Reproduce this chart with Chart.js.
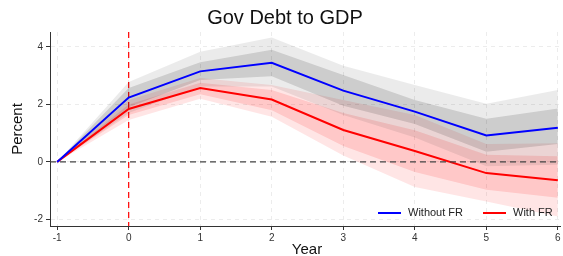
<!DOCTYPE html>
<html>
<head>
<meta charset="utf-8">
<script src="https://cdn.jsdelivr.net/npm/chart.js@4.4.1/dist/chart.umd.min.js"></script>
<style>
  body { margin: 0; background: #fff; }
  canvas { display: block; }
</style>
</head>
<body>
<canvas id="chart" width="563" height="256"></canvas>
<script>
// horizon (years) and tick labels
const years = [-1, 0, 1, 2, 3, 4, 5, 6];
const xTicks = [-1, 0, 1, 2, 3, 4, 5, 6];
const yTicks = [-2, 0, 2, 4];

// Without FR (blue) with bands
const withoutFR      = [0, 2.24, 3.15, 3.45, 2.48, 1.75, 0.92, 1.19];
const withoutOuterHi = [0, 2.78, 3.83, 4.33, 3.35, 2.68, 2.02, 2.50];
const withoutInnerHi = [0, 2.57, 3.47, 3.90, 3.02, 2.15, 1.50, 1.86];
const withoutInnerLo = [0, 1.90, 2.85, 2.98, 1.95, 1.32, 0.35, 0.62];
const withoutOuterLo = [0, 1.70, 2.62, 2.62, 1.63, 0.85, -0.15, -0.10];

// With FR (red) with bands
const withFR      = [0, 1.84, 2.57, 2.17, 1.11, 0.38, -0.39, -0.64];
const withOuterHi = [0, 2.15, 2.92, 2.68, 2.15, 1.63, 0.62, 0.65];
const withInnerHi = [0, 2.00, 2.75, 2.50, 1.70, 1.10, 0.25, 0.20];
const withInnerLo = [0, 1.63, 2.35, 1.80, 0.55, -0.35, -0.97, -1.25];
const withOuterLo = [0, 1.46, 2.20, 1.57, 0.22, -0.87, -1.38, -1.90];

function pts(arr) {
  return years.map((x, i) => ({ x: x, y: arr[i] }));
}

function band(lo, hi, color) {
  return [
    { data: pts(lo), borderWidth: 0, pointRadius: 0, fill: false, order: 5 },
    { data: pts(hi), borderWidth: 0, pointRadius: 0, fill: '-1', backgroundColor: color, order: 5 }
  ];
}

const datasets = [].concat(
  band(withoutOuterLo, withoutOuterHi, 'rgba(0,0,0,0.08)'),
  band(withoutInnerLo, withoutInnerHi, 'rgba(0,0,0,0.13)'),
  band(withOuterLo, withOuterHi, 'rgba(255,0,0,0.10)'),
  band(withInnerLo, withInnerHi, 'rgba(255,0,0,0.13)'),
  [
    { label: 'Without FR', data: pts(withoutFR), borderColor: '#0000ff', borderWidth: 2, pointRadius: 0, fill: false, order: 0 },
    { label: 'With FR', data: pts(withFR), borderColor: '#ff0000', borderWidth: 2, pointRadius: 0, fill: false, order: 0 }
  ]
);

const font = '"Liberation Sans", Arial, sans-serif';

// reference lines, titles and legend
const extras = {
  id: 'extras',
  beforeDatasetsDraw(chart) {
    const { ctx, chartArea: a, scales: { x } } = chart;
    ctx.save();
    ctx.lineWidth = 1.2;
    ctx.setLineDash([6, 4]);
    ctx.strokeStyle = '#ff0000';
    const x0 = x.getPixelForValue(0);
    ctx.beginPath(); ctx.moveTo(x0, a.top); ctx.lineTo(x0, a.bottom); ctx.stroke();
    ctx.restore();
  },
  afterDatasetsDraw(chart) {
    const { ctx, chartArea: a, scales: { y } } = chart;
    ctx.save();
    ctx.lineWidth = 1.2;
    ctx.setLineDash([6, 4]);
    ctx.strokeStyle = '#444';
    const y0 = y.getPixelForValue(0);
    ctx.beginPath(); ctx.moveTo(a.left, y0); ctx.lineTo(a.right, y0); ctx.stroke();
    ctx.restore();
  },
  afterDraw(chart) {
    const { ctx } = chart;
    ctx.save();
    ctx.fillStyle = '#111';
    ctx.textAlign = 'center';
    ctx.textBaseline = 'alphabetic';
    ctx.font = '20px ' + font;
    ctx.fillText('Gov Debt to GDP', 285, 24);
    ctx.font = '15px ' + font;
    ctx.fillText('Year', 307, 254);
    ctx.save();
    ctx.translate(22, 129);
    ctx.rotate(-Math.PI / 2);
    ctx.fillText('Percent', 0, 0);
    ctx.restore();

    // legend
    ctx.font = '11px ' + font;
    ctx.textAlign = 'left';
    ctx.textBaseline = 'middle';
    const items = [
      { label: 'Without FR', color: '#0000ff', x: 378 },
      { label: 'With FR', color: '#ff0000', x: 483 }
    ];
    items.forEach(it => {
      ctx.strokeStyle = it.color;
      ctx.lineWidth = 2;
      ctx.beginPath(); ctx.moveTo(it.x, 213); ctx.lineTo(it.x + 23, 213); ctx.stroke();
      ctx.fillStyle = '#222';
      ctx.fillText(it.label, it.x + 30, 213);
    });
    ctx.restore();
  }
};

new Chart(document.getElementById('chart'), {
  type: 'line',
  data: { datasets: datasets },
  options: {
    responsive: false,
    animation: false,
    layout: { padding: { top: 32, right: 3, left: 0, bottom: 0 } },
    plugins: {
      legend: { display: false },
      title: { display: false },
      tooltip: { enabled: false }
    },
    scales: {
      x: {
        type: 'linear',
        min: -1.1,
        max: 6.03,
        afterBuildTicks: s => { s.ticks = xTicks.map(v => ({ value: v })); },
        afterFit: s => { s.height = 30; },
        grid: { color: '#ececec', tickColor: '#333', tickLength: 4, tickBorderDash: [] },
        border: { color: '#333', width: 1, dash: [4, 4] },
        ticks: { color: '#333', font: { size: 10, family: font }, padding: 2, maxRotation: 0 }
      },
      y: {
        min: -2.23,
        max: 4.52,
        afterBuildTicks: s => { s.ticks = yTicks.map(v => ({ value: v })); },
        afterFit: s => { s.width = 50; },
        grid: { color: '#ececec', tickColor: '#333', tickLength: 4, tickBorderDash: [] },
        border: { color: '#333', width: 1, dash: [4, 4] },
        ticks: { color: '#333', font: { size: 10, family: font }, padding: 3 }
      }
    }
  },
  plugins: [extras]
});
</script>
</body>
</html>
